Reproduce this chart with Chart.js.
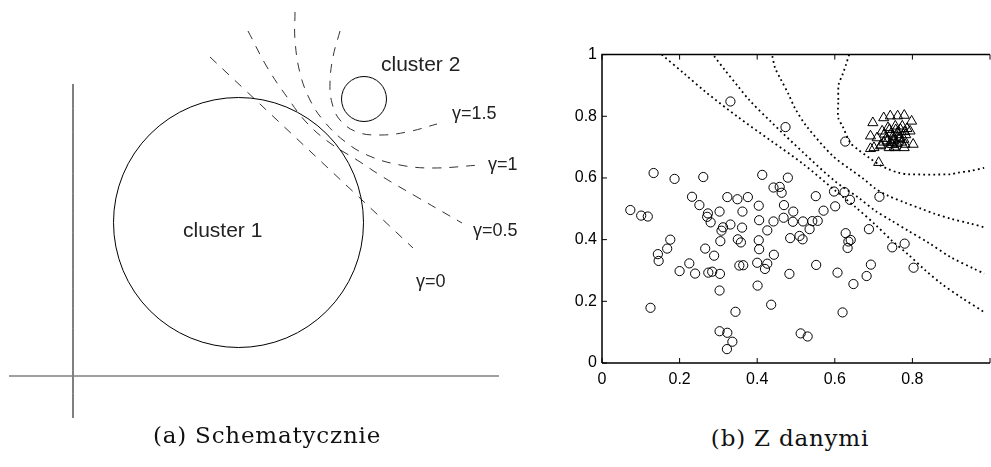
<!DOCTYPE html>
<html>
<head>
<meta charset="utf-8">
<script src="https://cdn.jsdelivr.net/npm/chart.js@4.4.1/dist/chart.umd.min.js"></script>
<style>
  html, body { margin: 0; padding: 0; background: #fff; overflow: hidden; width: 991px; height: 467px; }
  #schemat { position: absolute; left: 0; top: 0; }
  #dane { position: absolute; left: 560px; top: 40px; }
  .podpis { position: absolute; font-family: "DejaVu Serif", serif; font-size: 23px; color: #111;
            white-space: nowrap; transform: translateX(-50%); letter-spacing: 0.8px; }
</style>
</head>
<body>
<canvas id="schemat" width="540" height="467"></canvas>
<canvas id="dane" width="437" height="349"></canvas>
<div class="podpis" style="left:267px; top:422px">(a) Schematycznie</div>
<div class="podpis" style="left:790px; top:425px">(b) Z danymi</div>

<script>
// ---------- (a) schemat: jednostki rysunku ----------
const osPozioma = [[9, 376], [499, 376]];
const osPionowa = [[73, 84], [73, 418]];
const klasterX = [238.5, 364];
const klasterY = [222.5, 99];
const klasterR = [125, 22.5];
const gamma0  = [[210, 57], [413, 248]];
const gamma05 = [[248, 31], [267, 67], [287, 97], [307, 123], [330, 143], [357, 160], [383, 177], [417, 197], [462, 223]];
const gamma1  = [[295, 12], [295, 40], [300, 73], [310, 100], [323, 120], [343, 140], [367, 155], [400, 165], [433, 168], [480, 165]];
const gamma15 = [[340, 31], [333, 57], [330, 83], [332, 103], [340, 120], [357, 132], [380, 135], [407, 132], [437, 124]];
const etykiety  = ["cluster 1", "cluster 2", "γ=1.5", "γ=1", "γ=0.5", "γ=0"];
const etykietyX = [183, 381, 452, 488, 473, 416];
const etykietyY = [231, 65, 114, 165, 231, 282];

// ---------- (b) z danymi ----------
const kolaX = [0.073, 0.101, 0.118, 0.133, 0.187, 0.125, 0.144, 0.146, 0.168, 0.176, 0.200, 0.225, 0.232, 0.240, 0.251,
  0.261, 0.266, 0.273, 0.271, 0.280, 0.274, 0.284, 0.289, 0.303, 0.305, 0.308, 0.312, 0.304, 0.303, 0.303, 0.323, 0.322,
  0.336, 0.323, 0.331, 0.331, 0.344, 0.349, 0.350, 0.358, 0.354, 0.364, 0.361, 0.362, 0.376, 0.400, 0.401, 0.404, 0.405,
  0.404, 0.405, 0.413, 0.420, 0.426, 0.426, 0.436, 0.442, 0.442, 0.443, 0.458, 0.463, 0.469, 0.468, 0.473, 0.479, 0.485,
  0.483, 0.493, 0.492, 0.509, 0.517, 0.518, 0.535, 0.542, 0.556, 0.551, 0.552, 0.512, 0.530, 0.571, 0.598, 0.601, 0.607,
  0.620, 0.625, 0.627, 0.639, 0.628, 0.635, 0.641, 0.633, 0.648, 0.682, 0.688, 0.693, 0.715, 0.748, 0.780, 0.803];
const kolaY = [0.496, 0.478, 0.475, 0.616, 0.597, 0.179, 0.353, 0.331, 0.371, 0.400, 0.298, 0.323, 0.539, 0.290, 0.512,
  0.603, 0.371, 0.485, 0.474, 0.456, 0.293, 0.296, 0.348, 0.491, 0.395, 0.429, 0.440, 0.289, 0.235, 0.103, 0.098, 0.045,
  0.069, 0.538, 0.848, 0.449, 0.166, 0.531, 0.401, 0.391, 0.316, 0.317, 0.439, 0.491, 0.538, 0.325, 0.251, 0.510, 0.463,
  0.398, 0.369, 0.610, 0.305, 0.322, 0.430, 0.189, 0.569, 0.459, 0.351, 0.571, 0.552, 0.512, 0.471, 0.765, 0.601, 0.405,
  0.289, 0.491, 0.458, 0.412, 0.401, 0.459, 0.434, 0.460, 0.461, 0.541, 0.318, 0.096, 0.086, 0.494, 0.556, 0.508, 0.293,
  0.164, 0.554, 0.718, 0.529, 0.421, 0.394, 0.399, 0.373, 0.256, 0.282, 0.434, 0.319, 0.539, 0.375, 0.387, 0.309];
const trojkatyX = [0.698, 0.726, 0.743, 0.762, 0.779, 0.798, 0.692, 0.709, 0.722, 0.737, 0.756, 0.774, 0.794, 0.802,
  0.701, 0.718, 0.735, 0.751, 0.768, 0.781, 0.756, 0.740, 0.692, 0.713, 0.719, 0.753, 0.779, 0.728, 0.745, 0.762, 0.783,
  0.733, 0.750, 0.765, 0.778, 0.744, 0.760, 0.772, 0.726, 0.757, 0.769, 0.786, 0.741, 0.752, 0.764, 0.748, 0.780];
const trojkatyY = [0.779, 0.795, 0.801, 0.801, 0.803, 0.784, 0.736, 0.730, 0.752, 0.763, 0.768, 0.768, 0.752, 0.709,
  0.698, 0.704, 0.720, 0.725, 0.730, 0.709, 0.698, 0.698, 0.695, 0.650, 0.707, 0.700, 0.698, 0.742, 0.745, 0.748, 0.740,
  0.728, 0.735, 0.740, 0.725, 0.715, 0.712, 0.716, 0.716, 0.756, 0.758, 0.760, 0.757, 0.720, 0.728, 0.708, 0.750];
const granicaA = [[0.154, 1.0], [0.215, 0.935], [0.265, 0.881], [0.35, 0.798], [0.434, 0.722], [0.519, 0.645],
  [0.60, 0.56], [0.654, 0.505], [0.705, 0.448], [0.747, 0.397], [0.789, 0.352], [0.832, 0.302], [0.874, 0.258],
  [0.925, 0.213], [0.985, 0.165]];
const granicaB = [[0.289, 0.995], [0.316, 0.951], [0.350, 0.898], [0.380, 0.852], [0.434, 0.784], [0.519, 0.682],
  [0.60, 0.59], [0.662, 0.535], [0.705, 0.493], [0.747, 0.461], [0.789, 0.429], [0.840, 0.391], [0.899, 0.343],
  [0.958, 0.306], [0.985, 0.29]];
const granicaC = [[0.439, 0.995], [0.446, 0.957], [0.459, 0.924], [0.481, 0.871], [0.497, 0.827], [0.527, 0.768],
  [0.595, 0.671], [0.640, 0.628], [0.674, 0.597], [0.705, 0.565], [0.738, 0.542], [0.781, 0.520], [0.823, 0.500],
  [0.857, 0.484], [0.899, 0.468], [0.950, 0.452], [0.985, 0.44]];
const granicaD = [[0.637, 1.0], [0.629, 0.968], [0.620, 0.935], [0.610, 0.903], [0.609, 0.85], [0.609, 0.795],
  [0.620, 0.768], [0.640, 0.714], [0.660, 0.692], [0.688, 0.666], [0.713, 0.644], [0.739, 0.628], [0.764, 0.617],
  [0.789, 0.612], [0.899, 0.612], [0.916, 0.617], [0.950, 0.623], [0.985, 0.633]];
const ticksX = [0, 0.2, 0.4, 0.6, 0.8, 1];
const etykietyOsiX = ["0", "0.2", "0.4", "0.6", "0.8", ""];
const ticksY = [0, 0.2, 0.4, 0.6, 0.8, 1];
const etykietyOsiY = ["0", "0.2", "0.4", "0.6", "0.8", "1"];

Chart.defaults.font.family = "'Liberation Sans', Arial, sans-serif";
Chart.defaults.color = "#000";

const punkty = pary => pary.map(p => ({ x: p[0], y: p[1] }));

function linia(pary, kolor, grubosc, kreski) {
  return {
    data: punkty(pary), showLine: true, borderColor: kolor, borderWidth: grubosc,
    borderDash: kreski, pointRadius: 0, tension: 0.4, fill: false
  };
}

// etykiety tekstowe schematu
const napisy = {
  id: "napisy",
  afterDatasetsDraw(chart) {
    const { ctx, scales: { x, y } } = chart;
    ctx.save();
    ctx.fillStyle = "#222";
    ctx.textBaseline = "middle";
    ctx.textAlign = "left";
    etykiety.forEach((t, i) => {
      ctx.font = (t.startsWith("cluster") ? "21px" : "18px") + " 'Liberation Sans', Arial, sans-serif";
      ctx.fillText(t, x.getPixelForValue(etykietyX[i]), y.getPixelForValue(etykietyY[i]));
    });
    ctx.restore();
  }
};

new Chart(document.getElementById("schemat"), {
  type: "scatter",
  data: {
    datasets: [
      linia(osPozioma, "#808080", 1.5, []),
      linia(osPionowa, "#000", 1, []),
      {
        data: klasterX.map((x, i) => ({ x: x, y: klasterY[i] })),
        pointStyle: "circle",
        pointRadius: c => {
          const s = c.chart.scales.x;
          return s.getPixelForValue(klasterR[c.dataIndex]) - s.getPixelForValue(0);
        },
        borderColor: "#000", borderWidth: 1, backgroundColor: "rgba(0,0,0,0)"
      },
      linia(gamma0, "#333", 1, [9, 8]),
      linia(gamma05, "#333", 1, [9, 8]),
      linia(gamma1, "#333", 1, [9, 8]),
      linia(gamma15, "#333", 1, [9, 8])
    ]
  },
  options: {
    responsive: false, animation: false, events: [],
    layout: { padding: 0 },
    plugins: { legend: { display: false }, tooltip: { enabled: false } },
    scales: {
      x: { type: "linear", min: 0, max: 540, display: false },
      y: { type: "linear", min: 0, max: 467, reverse: true, display: false }
    }
  },
  plugins: [napisy]
});

// ramka i ticki do srodka
const ramka = {
  id: "ramka",
  afterDraw(chart) {
    const { ctx, chartArea: a, scales: { x, y } } = chart;
    ctx.save();
    ctx.strokeStyle = "#000";
    ctx.lineWidth = 1.5;
    ctx.beginPath();
    ctx.moveTo(a.left, a.bottom); ctx.lineTo(a.left, a.top); ctx.lineTo(a.right, a.top);
    ctx.moveTo(a.left, a.bottom); ctx.lineTo(a.right, a.bottom);
    ctx.stroke();
    ctx.lineWidth = 1;
    ctx.beginPath();
    ticksX.forEach(v => {
      const px = x.getPixelForValue(v);
      ctx.moveTo(px, a.bottom); ctx.lineTo(px, a.bottom - 5);
      ctx.moveTo(px, a.top); ctx.lineTo(px, a.top + 5);
    });
    ticksY.forEach(v => {
      const py = y.getPixelForValue(v);
      ctx.moveTo(a.left, py); ctx.lineTo(a.left + 5, py);
    });
    ctx.stroke();
    ctx.restore();
  }
};

function granica(pary) {
  return {
    data: punkty(pary), showLine: true, borderColor: "#000", borderWidth: 1.8,
    borderDash: [1.8, 3.2], pointRadius: 0, tension: 0.3, fill: false
  };
}

new Chart(document.getElementById("dane"), {
  type: "scatter",
  data: {
    datasets: [
      granica(granicaA), granica(granicaB), granica(granicaC), granica(granicaD),
      {
        data: kolaX.map((x, i) => ({ x: x, y: kolaY[i] })),
        pointStyle: "circle", pointRadius: 4.6, borderWidth: 1,
        borderColor: "#000", backgroundColor: "rgba(0,0,0,0)"
      },
      {
        data: trojkatyX.map((x, i) => ({ x: x, y: trojkatyY[i] })),
        pointStyle: "triangle", pointRadius: 5.8, borderWidth: 1,
        borderColor: "#000", backgroundColor: "rgba(0,0,0,0)"
      }
    ]
  },
  options: {
    responsive: false, animation: false, events: [],
    layout: { padding: { top: 13, left: 0, right: 0, bottom: 0 } },
    plugins: { legend: { display: false }, tooltip: { enabled: false } },
    scales: {
      x: {
        type: "linear", min: 0, max: 1,
        grid: { display: false, drawTicks: false }, border: { display: false },
        afterBuildTicks: s => { s.ticks = ticksX.map(v => ({ value: v })); },
        afterFit: s => { s.height = 26; },
        ticks: { padding: 7, maxRotation: 0, font: { size: 16 }, callback: (v, i) => etykietyOsiX[i] }
      },
      y: {
        type: "linear", min: 0, max: 1,
        grid: { display: false, drawTicks: false }, border: { display: false },
        afterBuildTicks: s => { s.ticks = ticksY.map(v => ({ value: v })); },
        afterFit: s => { s.width = 42; },
        ticks: { padding: 5, font: { size: 16 }, callback: (v, i) => etykietyOsiY[i] }
      }
    }
  },
  plugins: [ramka]
});
</script>
</body>
</html>
